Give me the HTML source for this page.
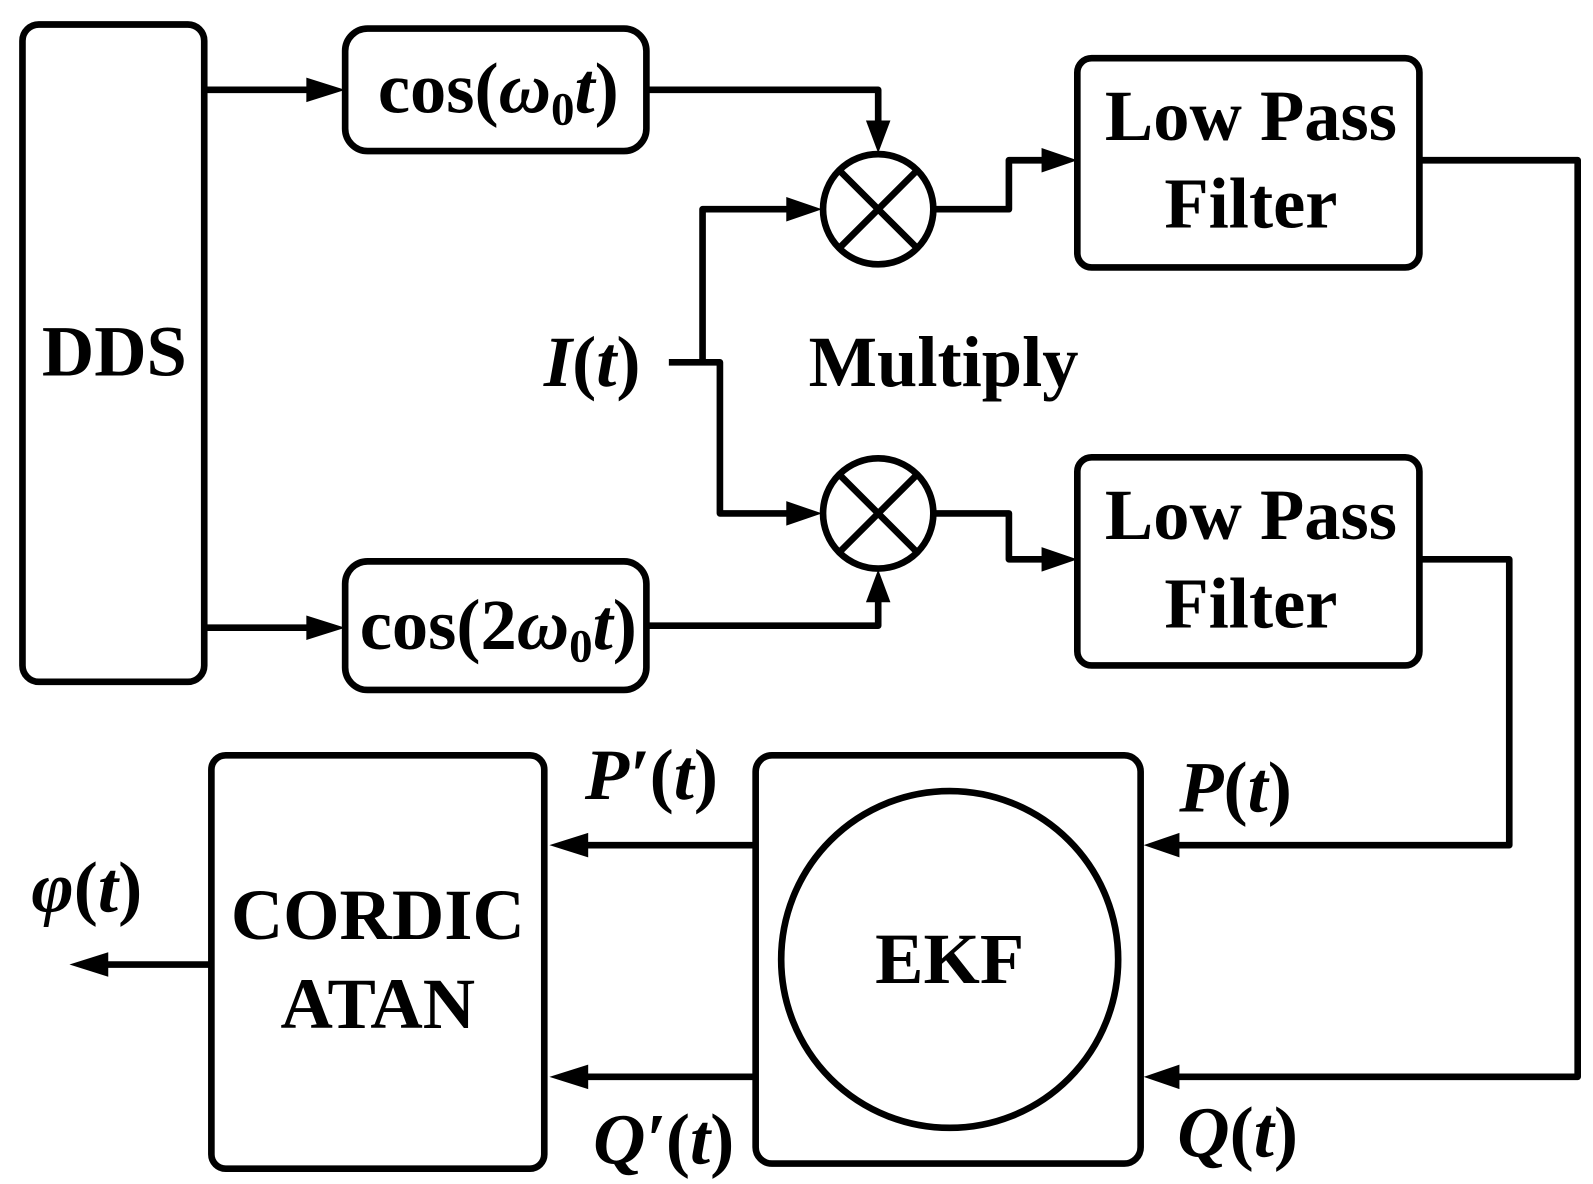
<!DOCTYPE html>
<html><head><style>html,body{margin:0;padding:0;background:#fff;}svg{display:block;}</style></head>
<body>
<svg width="1593" height="1184" viewBox="0 0 1560 1160" preserveAspectRatio="none" xmlns="http://www.w3.org/2000/svg">
<g fill="none" stroke="#000" stroke-width="6.5" stroke-linejoin="round">
<rect x="22" y="24" width="178" height="644" rx="16"/>
<rect x="338" y="28" width="295" height="120" rx="22"/>
<rect x="338" y="550" width="295" height="126" rx="22"/>
<rect x="1055" y="57" width="335" height="205" rx="14"/>
<rect x="1055" y="448" width="335" height="204" rx="14"/>
<rect x="740" y="740" width="377" height="400" rx="16"/>
<circle cx="930" cy="940" r="165"/>
<rect x="207" y="740" width="326" height="405" rx="14"/>
<circle cx="860" cy="205" r="54"/>
<circle cx="860" cy="503" r="54"/>
<path d="M822 167L898 243M898 167L822 243M822 465L898 541M898 465L822 541"/>
<path d="M200 88H310"/>
<path d="M200 615H310"/>
<path d="M633 88H860V125"/>
<path d="M633 613H860V585"/>
<path d="M655 355H705V503H775"/>
<path d="M688 355V205H775"/>
<path d="M915 205H988V157H1028"/>
<path d="M915 503H988V548H1028"/>
<path d="M1390 157H1545V1055H1150"/>
<path d="M1390 548H1478V828H1150"/>
<path d="M740 828H570"/>
<path d="M740 1055H570"/>
<path d="M207 945H100"/>
</g>
<g fill="#000">
<path d="M338 88L300 76V100Z"/>
<path d="M338 615L300 603V627Z"/>
<path d="M860 150L848 118H872Z"/>
<path d="M860 558L848 590H872Z"/>
<path d="M805 205L770 193V217Z"/>
<path d="M805 503L770 491V515Z"/>
<path d="M1055 157L1020 145V169Z"/>
<path d="M1055 548L1020 536V560Z"/>
<path d="M1120 828L1155 816V840Z"/>
<path d="M1120 1055L1155 1043V1067Z"/>
<path d="M538 828L576 816V840Z"/>
<path d="M538 1055L576 1043V1067Z"/>
<path d="M68 945L106 933V957Z"/>
</g>
<g font-family="Liberation Serif, serif" font-weight="bold" font-size="71" text-anchor="middle" fill="#000">
<text x="112" y="368">DDS</text>
<text x="488" y="110">cos(<tspan font-style="italic">ω</tspan><tspan font-size="46" dy="12">0</tspan><tspan font-style="italic" dy="-12">t</tspan>)</text>
<text x="488" y="636">cos(2<tspan font-style="italic">ω</tspan><tspan font-size="46" dy="12">0</tspan><tspan font-style="italic" dy="-12">t</tspan>)</text>
<text x="580" y="378"><tspan font-style="italic">I</tspan>(<tspan font-style="italic">t</tspan>)</text>
<text x="924" y="378">Multiply</text>
<text x="1225" y="137">Low Pass</text>
<text x="1225" y="223">Filter</text>
<text x="1225" y="528">Low Pass</text>
<text x="1225" y="615">Filter</text>
<text x="930" y="963">EKF</text>
<text x="370" y="920">CORDIC</text>
<text x="370" y="1007">ATAN</text>
<text x="1210" y="795" font-style="italic">P<tspan font-style="normal">(</tspan>t<tspan font-style="normal">)</tspan></text>
<text x="1212" y="1133" font-style="italic">Q<tspan font-style="normal">(</tspan>t<tspan font-style="normal">)</tspan></text>
<text x="638" y="783" font-style="italic">P′<tspan font-style="normal">(</tspan>t<tspan font-style="normal">)</tspan></text>
<text x="650" y="1140" font-style="italic">Q′<tspan font-style="normal">(</tspan>t<tspan font-style="normal">)</tspan></text>
<text x="85" y="893" font-style="italic">φ<tspan font-style="normal">(</tspan>t<tspan font-style="normal">)</tspan></text>
</g>
</svg>
</body></html>
